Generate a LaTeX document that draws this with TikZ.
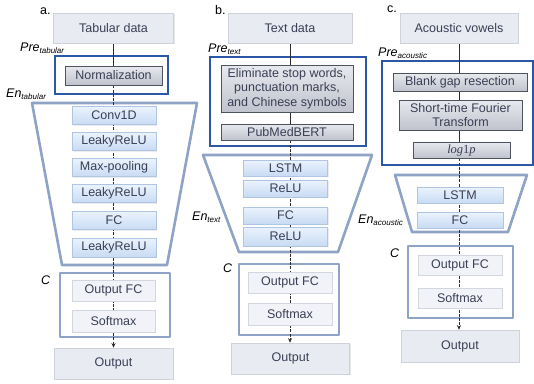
\documentclass[tikz,border=0pt]{standalone}
\usepackage{fontspec}
\setmainfont{Liberation Sans}
\newfontfamily\mathlikefont{Liberation Serif}
\usetikzlibrary{shadows,backgrounds,arrows.meta}
\definecolor{txt}{HTML}{3A3F55}
\definecolor{ioFill}{HTML}{E8EBF2}
\definecolor{ioLine}{HTML}{CDD2DC}
\definecolor{preTop}{HTML}{E8E9EF}
\definecolor{preBot}{HTML}{C0C3CD}
\definecolor{preLine}{HTML}{4E5360}
\definecolor{encTop}{HTML}{EBF3FE}
\definecolor{encBot}{HTML}{C8DBF3}
\definecolor{encLine}{HTML}{AFC5E3}
\definecolor{cFill}{HTML}{F2F3F8}
\definecolor{cLine}{HTML}{D2D6DF}
\definecolor{blueFrame}{HTML}{2A57A6}
\definecolor{grayFrame}{HTML}{8EA3C6}
\definecolor{connCol}{HTML}{2E2E2E}
\newcommand\lblsub[2]{\textit{#1}\raisebox{-0.4ex}{\fontsize{8}{9}\selectfont\textit{#2}}}
\tikzset{
  sz/.style 2 args={minimum width=#1pt, minimum height=#2pt},
  basebox/.style={draw, inner sep=0pt, font=\fontsize{12.5}{14.5}\selectfont, text=txt, align=center},
  iobox/.style={basebox, fill=ioFill, draw=ioLine, line width=0.6pt,
    drop shadow={shadow xshift=1pt, shadow yshift=-1.2pt, opacity=0.2}},
  prebox/.style={basebox, top color=preTop, bottom color=preBot, draw=preLine, line width=0.7pt,
    drop shadow={shadow xshift=1pt, shadow yshift=-1.2pt, opacity=0.25}},
  encbox/.style={basebox, top color=encTop, bottom color=encBot, draw=encLine, line width=0.6pt,
    drop shadow={shadow xshift=1pt, shadow yshift=-1.2pt, opacity=0.15}},
  clsbox/.style={basebox, fill=cFill, draw=cLine, line width=0.6pt,
    drop shadow={shadow xshift=1pt, shadow yshift=-1.2pt, opacity=0.25}},
  lab/.style={inner sep=0pt, font=\fontsize{12.5}{14.5}\selectfont, text=black, anchor=base west},
  bframe/.style={draw=blueFrame, line width=2.6pt},
  gframe/.style={draw=grayFrame, line width=2.6pt, line join=round},
  solidconn/.style={draw=connCol, line width=0.9pt},
  dashconn/.style={draw=connCol, line width=0.9pt, dash pattern=on 3pt off 1.2pt,
    -{Stealth[length=4.5pt,width=4pt]}},
}
\begin{document}
\begin{tikzpicture}[x=1pt,y=-1pt]
\useasboundingbox (0,0) rectangle (534,383);

% ---------- column a ----------
\node[lab] (la) at (40,14) {a.};
\node[iobox, sz={120}{30}] (a0) at (113.5,28) {Tabular data};
\node[prebox, sz={97}{19}] (a1) at (113.5,75.5) {Normalization};
\node[encbox, sz={84}{18}] (a2) at (114,115.5) {Conv1D};
\node[encbox, sz={84}{18}] (a3) at (114,141.5) {LeakyReLU};
\node[encbox, sz={84}{18}] (a4) at (114,167.5) {Max-pooling};
\node[encbox, sz={84}{18}] (a5) at (114,193.5) {LeakyReLU};
\node[encbox, sz={84}{18}] (a6) at (114,220.5) {FC};
\node[encbox, sz={84}{19}] (a7) at (114,247.5) {LeakyReLU};
\node[clsbox, sz={83}{21}] (a8) at (113.5,290.5) {Output FC};
\node[clsbox, sz={83}{22}] (a9) at (113.5,321) {Softmax};
\node[iobox, sz={119}{31}] (a10) at (113.5,363.5) {Output};
\node[lab] (lpa) at (20,51) {\lblsub{Pre}{tabular}};
\node[lab] (lea) at (6,97) {\lblsub{En}{tabular}};
\node[lab] (lca) at (41,284) {\textit{C}};

% ---------- column b ----------
\node[lab] (lb) at (215,14) {b.};
\node[iobox, sz={124}{30}] (b0) at (290,28) {Text data};
\node[prebox, sz={132}{47}] (b1) at (287,88.5) {Eliminate stop words,\\punctuation marks,\\and Chinese symbols};
\node[prebox, sz={132}{16}] (b2) at (287,132) {PubMedBERT};
\node[encbox, sz={84}{16}] (b3) at (285.5,168) {LSTM};
\node[encbox, sz={84}{17}] (b4) at (285.5,188.5) {ReLU};
\node[encbox, sz={84}{17}] (b5) at (285.5,215.5) {FC};
\node[encbox, sz={84}{19}] (b6) at (285.5,236.5) {ReLU};
\node[clsbox, sz={84}{21}] (b8) at (290,282.5) {Output FC};
\node[clsbox, sz={84}{22}] (b9) at (290,314) {Softmax};
\node[iobox, sz={118}{31}] (b10) at (290.5,358.5) {Output};
\node[lab] (lpb) at (208,52) {\lblsub{Pre}{text}};
\node[lab] (leb) at (192,220) {\lblsub{En}{text}};
\node[lab] (lcb) at (223,272) {\textit{C}};

% ---------- column c ----------
\node[lab] (lc) at (387,12) {c.};
\node[iobox, sz={118}{30}] (c0) at (459,28) {Acoustic vowels};
\node[prebox, sz={134}{18}] (c1) at (460,82) {Blank gap resection};
\node[prebox, sz={123}{30}] (c2) at (460.5,115) {Short-time Fourier\\Transform};
\node[prebox, sz={97}{16}] (c3) at (461.5,150) {{\mathlikefont\itshape log}{\mathlikefont 1}{\mathlikefont\itshape p}};
\node[encbox, sz={86}{16}] (c4) at (460,195) {LSTM};
\node[encbox, sz={86}{16}] (c5) at (460,220) {FC};
\node[clsbox, sz={84}{20}] (c6) at (460,265) {Output FC};
\node[clsbox, sz={84}{20}] (c7) at (460,298) {Softmax};
\node[iobox, sz={118}{32}] (c8) at (460,346) {Output};
\node[lab] (lpc) at (378,56) {\lblsub{Pre}{acoustic}};
\node[lab] (lec) at (358,223) {\lblsub{En}{acoustic}};
\node[lab] (lcc) at (390,257) {\textit{C}};

\begin{scope}[on background layer]
  \fill[white] (0,0) rectangle (534,383);
  % frames
  \draw[bframe] (55,56) rectangle (168,94);
  \draw[gframe] (32,103) -- (197,103) -- (167,265) -- (62,265) -- cycle;
  \draw[gframe] (60,273) rectangle (170,337);
  \draw[bframe] (210,57) rectangle (366,146);
  \draw[gframe] (203,155) -- (372,155) -- (338,252) -- (239,252) -- cycle;
  \draw[gframe] (239,264) rectangle (339,335);
  \draw[bframe] (382,61) rectangle (533,165);
  \draw[gframe] (395,175) -- (527,175) -- (508,232) -- (412,232) -- cycle;
  \draw[gframe] (408,246) rectangle (513,318);
  % connectors
  \draw[solidconn] (a0.south) -- (a1.north);
  \draw[dashconn] (a1.south) -- (a1.south |- a10.north);
  \draw[solidconn] (b0.south) -- (b0.south |- b2.south);
  \draw[dashconn] (b0.south |- b2.south) -- (b0.south |- b10.north);
  \draw[solidconn] (c0.south) -- (c0.south |- c3.south);
  \draw[dashconn] (c0.south |- c3.south) -- (c0.south |- c8.north);
\end{scope}
\end{tikzpicture}
\end{document}
